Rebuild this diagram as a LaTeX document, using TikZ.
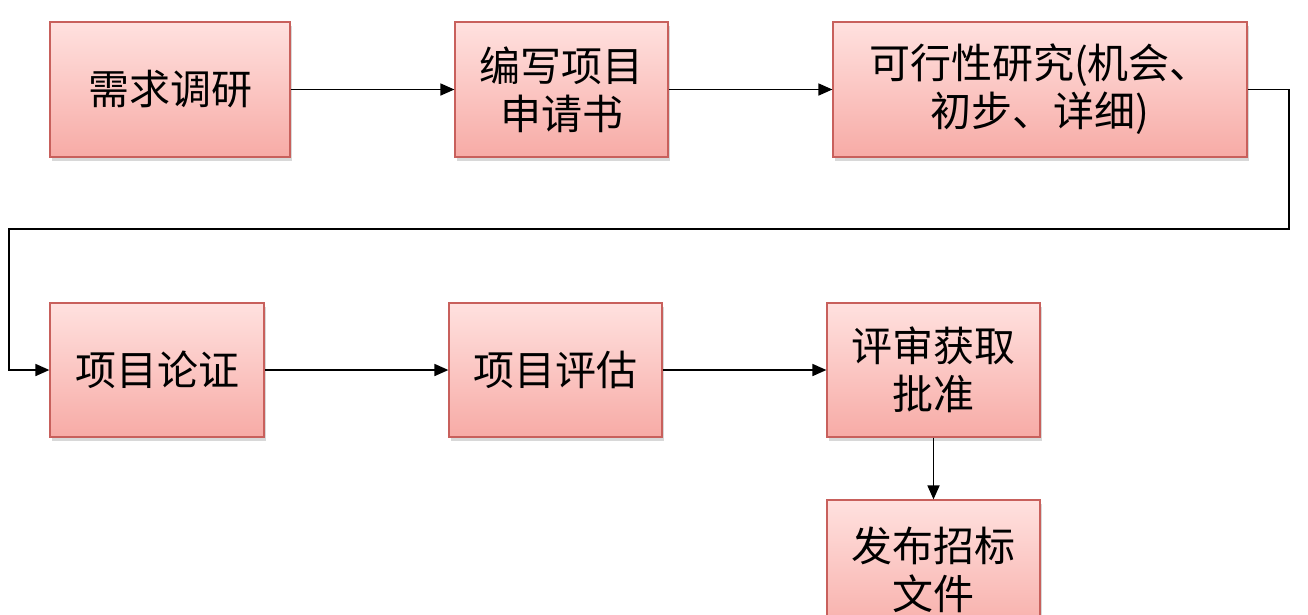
\documentclass[tikz,border=0pt]{standalone}
\usepackage{fontspec}
\newfontfamily\cjk{Noto Sans CJK SC}
\usetikzlibrary{arrows.meta,shadows}
\definecolor{boxtop}{HTML}{FFE1DF}
\definecolor{boxbot}{HTML}{F7ABA6}
\definecolor{boxline}{HTML}{C8605C}
\tikzset{
  stepbox/.style={draw=boxline, line width=1.2pt, top color=boxtop, bottom color=boxbot,
    inner sep=0pt, align=center, font=\cjk\fontsize{41}{48}\selectfont,
    drop shadow={shadow xshift=2pt, shadow yshift=-4pt, opacity=0.25, fill=black!60}},
  arr/.style={line width=1.7pt, -{Triangle[length=14pt,width=12pt]}}
}
\begin{document}
\begin{tikzpicture}[x=1pt,y=-1pt]
\useasboundingbox[fill=white] (0,0) rectangle (1308,614);
\node[stepbox, minimum width=240pt, minimum height=135pt] (n1) at (170,89.5) {需求调研};
\node[stepbox, minimum width=213pt, minimum height=135pt] (n2) at (561.5,89.5) {编写项目\\申请书};
\node[stepbox, minimum width=414pt, minimum height=135pt] (n3) at (1040,89.5) {可行性研究(机会、\\初步、详细)};
\node[stepbox, minimum width=214pt, minimum height=134pt] (n4) at (157,370) {项目论证};
\node[stepbox, minimum width=213pt, minimum height=134pt] (n5) at (555.5,370) {项目评估};
\node[stepbox, minimum width=213pt, minimum height=134pt] (n6) at (933.5,370) {评审获取\\批准};
\node[stepbox, minimum width=213pt, minimum height=140pt] (n7) at (933.5,570) {发布招标\\文件};
\coordinate (c1) at (1289,229);
\coordinate (c2) at (9,229);
\draw[arr] (n1) -- (n2);
\draw[arr] (n2) -- (n3);
\draw[arr] (n3.east) -| (c1) -- (c2) |- (n4.west);
\draw[arr] (n4) -- (n5);
\draw[arr] (n5) -- (n6);
\draw[arr] (n6) -- (n7);
\end{tikzpicture}
\end{document}
